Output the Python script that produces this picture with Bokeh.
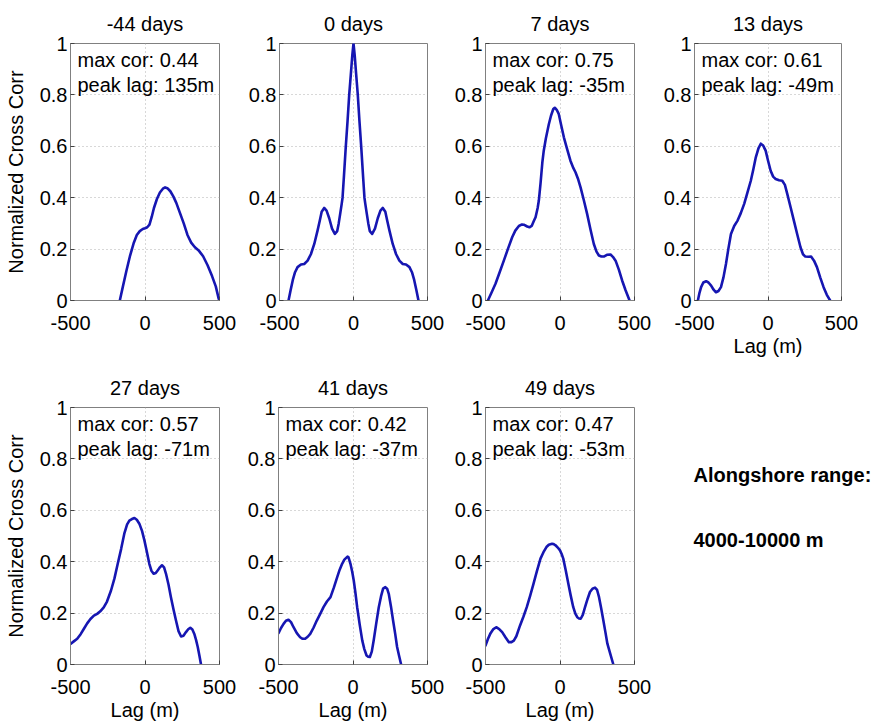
from bokeh.plotting import figure
from bokeh.layouts import column, row
from bokeh.models import Range1d, FixedTicker, Label, NumeralTickFormatter
from bokeh.embed import file_html
from bokeh.resources import INLINE

FONT = "Liberation Sans"
CURVE_COLOR = "#1616b2"
FRAME_COLOR = "#808080"

# Cross-correlation curves (lag in metres, normalized correlation)
titles = ["-44 days", "0 days", "7 days", "13 days", "27 days", "41 days", "49 days"]

lag_m44 = [-169, -150, -125, -100, -75, -55, -35, -15, 0, 15, 30, 45, 60, 80, 100, 120, 135, 150, 170,
           190, 210, 235, 260, 285, 310, 335, 360, 390, 420, 450, 475, 495]
cor_m44 = [0.0, 0.05, 0.115, 0.175, 0.225, 0.255, 0.27, 0.278, 0.281, 0.285, 0.295, 0.325, 0.36, 0.395,
           0.42, 0.435, 0.44, 0.437, 0.425, 0.405, 0.38, 0.34, 0.3, 0.255, 0.225, 0.207, 0.195, 0.172,
           0.137, 0.095, 0.055, 0.006]

lag_0 = [-439, -425, -410, -395, -378, -355, -333, -310, -288, -265, -243, -228, -215, -198, -182, -164,
         -145, -126, -110, -100, -90, -80, -74, -65, -52, -40, -29, -18, -8, 0,
         8, 18, 29, 40, 52, 65, 74, 80, 90, 100, 110, 126, 145, 164, 182, 198, 215, 228, 243, 265, 288,
         310, 333, 355, 378, 395, 410, 425, 439]
cor_0 = [0.0, 0.04, 0.08, 0.11, 0.13, 0.14, 0.142, 0.155, 0.18, 0.22, 0.272, 0.31, 0.345, 0.36, 0.35, 0.32,
         0.28, 0.259, 0.27, 0.30, 0.337, 0.375, 0.40, 0.48, 0.60, 0.70, 0.80, 0.88, 0.955, 1.0,
         0.955, 0.88, 0.80, 0.70, 0.60, 0.48, 0.40, 0.375, 0.337, 0.30, 0.27, 0.259, 0.28, 0.32, 0.35,
         0.36, 0.345, 0.31, 0.272, 0.22, 0.18, 0.155, 0.142, 0.14, 0.13, 0.11, 0.08, 0.04, 0.0]

lag_7 = [-484, -460, -433, -405, -377, -350, -321, -300, -276, -255, -243, -220, -205, -190, -175, -164,
         -150, -142, -130, -118, -109, -95, -75, -60, -45, -35, -22, -8, 5, 26, 45, 70, 90, 104, 120, 138,
         160, 182, 205, 227, 245, 261, 278, 294, 315, 339, 355, 373, 395, 417, 440, 467]
cor_7 = [0.0, 0.03, 0.065, 0.11, 0.155, 0.2, 0.246, 0.272, 0.29, 0.296, 0.295, 0.288, 0.285, 0.29, 0.31,
         0.324, 0.36, 0.389, 0.46, 0.54, 0.583, 0.63, 0.686, 0.72, 0.745, 0.75, 0.742, 0.725, 0.69, 0.635,
         0.595, 0.544, 0.515, 0.499, 0.475, 0.44, 0.39, 0.337, 0.275, 0.22, 0.19, 0.175, 0.171, 0.171,
         0.178, 0.179, 0.17, 0.155, 0.12, 0.078, 0.04, 0.0]

lag_13 = [-477, -466, -455, -440, -421, -405, -387, -370, -354, -337, -320, -303, -286, -270, -252, -230,
          -207, -185, -162, -140, -117, -100, -83, -65, -49, -33, -16, 0, 18, 35, 52, 75, 97, 115, 131,
          155, 176, 200, 221, 238, 254, 275, 293, 313, 333, 355, 378, 400, 423]
cor_13 = [0.0, 0.03, 0.052, 0.07, 0.075, 0.07, 0.058, 0.042, 0.032, 0.037, 0.052, 0.09, 0.142, 0.2, 0.259,
          0.29, 0.311, 0.34, 0.376, 0.42, 0.466, 0.51, 0.557, 0.592, 0.61, 0.603, 0.583, 0.545, 0.505,
          0.482, 0.473, 0.468, 0.466, 0.45, 0.415, 0.36, 0.311, 0.255, 0.207, 0.18, 0.171, 0.17, 0.171,
          0.155, 0.13, 0.09, 0.052, 0.022, 0.0]

lag_27 = [-500, -478, -455, -432, -410, -388, -366, -343, -321, -300, -277, -255, -228, -205, -183, -160,
          -139, -120, -105, -88, -71, -55, -38, -20, -4, 12, 29, 43, 58, 72, 85, 100, 114, 128, 141, 158,
          174, 191, 208, 225, 242, 258, 275, 290, 304, 318, 331, 343, 354, 365, 376]
cor_27 = [0.08, 0.09, 0.1, 0.118, 0.139, 0.16, 0.177, 0.19, 0.197, 0.207, 0.222, 0.245, 0.288, 0.335,
          0.392, 0.45, 0.509, 0.545, 0.56, 0.566, 0.57, 0.563, 0.548, 0.52, 0.483, 0.44, 0.392, 0.365,
          0.353, 0.356, 0.366, 0.378, 0.386, 0.378, 0.353, 0.31, 0.262, 0.215, 0.171, 0.13, 0.109, 0.112,
          0.126, 0.137, 0.143, 0.136, 0.119, 0.095, 0.068, 0.035, 0.0]

lag_41 = [-500, -483, -466, -450, -433, -416, -399, -377, -355, -338, -321, -304, -287, -265, -243, -220,
          -198, -175, -151, -128, -106, -90, -73, -58, -44, -37, -30, -17, -5, 5, 16, 28, 45, 62, 76, 91,
          102, 113, 126, 139, 156, 173, 188, 202, 217, 229, 240, 255, 269, 283, 296, 310, 323]
cor_41 = [0.122, 0.142, 0.158, 0.17, 0.174, 0.165, 0.145, 0.122, 0.106, 0.1, 0.1, 0.108, 0.119, 0.143,
          0.171, 0.197, 0.223, 0.245, 0.262, 0.3, 0.34, 0.368, 0.392, 0.408, 0.416, 0.42, 0.417, 0.392,
          0.36, 0.327, 0.28, 0.223, 0.155, 0.094, 0.06, 0.035, 0.03, 0.029, 0.05, 0.094, 0.16, 0.223,
          0.265, 0.295, 0.301, 0.295, 0.275, 0.225, 0.171, 0.12, 0.068, 0.032, 0.0]

lag_49 = [-500, -483, -466, -447, -428, -408, -388, -365, -343, -326, -310, -293, -268, -245, -223, -200,
          -178, -155, -131, -111, -91, -75, -59, -53, -45, -30, -15, 0, 11, 22, 39, 56, 72, 89, 103, 116,
          128, 139, 153, 168, 185, 201, 218, 235, 249, 262, 276, 291, 305, 318, 338, 358]
cor_49 = [0.074, 0.1, 0.122, 0.138, 0.145, 0.138, 0.126, 0.105, 0.087, 0.087, 0.093, 0.11, 0.152, 0.187,
          0.223, 0.268, 0.314, 0.363, 0.412, 0.437, 0.457, 0.466, 0.469, 0.47, 0.469, 0.464, 0.455, 0.444,
          0.43, 0.412, 0.365, 0.314, 0.268, 0.223, 0.198, 0.184, 0.179, 0.178, 0.193, 0.223, 0.255,
          0.282, 0.295, 0.299, 0.29, 0.262, 0.22, 0.171, 0.125, 0.081, 0.04, 0.0]

x_ticks = [-500, 0, 500]
y_ticks = [0, 0.2, 0.4, 0.6, 0.8, 1]

side_note = ["Alongshore range:", "4000-10000 m"]


def make_panel(title, lags, cors, width, height, borders, ylabel=False, xlabel=False, stats=True):
    left, right, top, bottom = borders
    p = figure(width=width, height=height, x_range=Range1d(-500, 500), y_range=Range1d(0, 1),
               output_backend="svg", toolbar_location=None, tools="",
               min_border_left=left, min_border_right=right,
               min_border_top=top, min_border_bottom=bottom,
               background_fill_color="white", border_fill_color="white")
    p.title.text = title
    p.title.align = "center"
    p.title.vertical_align = "top"
    p.title.text_font = FONT
    p.title.text_font_size = "20px"
    p.title.text_font_style = "normal"
    p.title.text_color = "black"
    p.title.standoff = 14

    p.outline_line_color = FRAME_COLOR
    p.outline_line_width = 1

    p.xaxis.ticker = FixedTicker(ticks=x_ticks)
    p.yaxis.ticker = FixedTicker(ticks=y_ticks)
    p.xaxis.formatter = NumeralTickFormatter(format="0")
    p.yaxis.formatter = NumeralTickFormatter(format="0.[0]")
    for ax in (p.xaxis, p.yaxis):
        ax.axis_line_color = FRAME_COLOR
        ax.major_tick_in = 4
        ax.major_tick_out = 0
        ax.major_tick_line_color = "#404040"
        ax.minor_tick_line_color = None
        ax.major_label_text_font = FONT
        ax.major_label_text_font_size = "20px"
        ax.major_label_text_color = "black"
        ax.axis_label_text_font = FONT
        ax.axis_label_text_font_size = "20px"
        ax.axis_label_text_font_style = "normal"
        ax.axis_label_text_color = "black"
    p.yaxis.major_label_standoff = 3
    p.xaxis.major_label_standoff = 15
    if ylabel:
        p.yaxis.axis_label = "Normalized Cross Corr"
        p.yaxis.axis_label_standoff = 10
    if xlabel:
        p.xaxis.axis_label = "Lag (m)"
        p.xaxis.axis_label_standoff = 2

    p.grid.grid_line_color = "#b0b0b0"
    p.grid.grid_line_dash = "1 3"
    p.grid.grid_line_width = 1

    p.line(lags, cors, line_color=CURVE_COLOR, line_width=2.6, line_join="round", line_cap="round")

    if stats:
        i = max(range(len(cors)), key=lambda k: cors[k])
        lines = [f"max cor: {cors[i]:.2f}", f"peak lag: {lags[i]:.0f}m"]
        for j, txt in enumerate(lines):
            p.add_layout(Label(x=-500, y=1, x_offset=7, y_offset=-16 - 25 * j, text=txt,
                               text_font=FONT, text_font_size="20px", text_color="black",
                               text_baseline="middle", text_align="left"))
    return p


TOP = (43, 60)
BOT = (47, 62)

f1 = make_panel(titles[0], lag_m44, cor_m44, 240, 360, (70, 21) + TOP, ylabel=True)
f2 = make_panel(titles[1], lag_0, cor_0, 210, 360, (39, 23) + TOP, stats=False)
f3 = make_panel(titles[2], lag_7, cor_7, 210, 360, (35, 26) + TOP)
f4 = make_panel(titles[3], lag_13, cor_13, 220, 360, (33, 39) + TOP, xlabel=True)

f5 = make_panel(titles[4], lag_27, cor_27, 240, 366, (70, 21) + BOT, ylabel=True, xlabel=True)
f6 = make_panel(titles[5], lag_41, cor_41, 210, 366, (38, 23) + BOT, xlabel=True)
f7 = make_panel(titles[6], lag_49, cor_49, 210, 366, (35, 26) + BOT, xlabel=True)

# side note panel: its frame lines up with the bottom-row plot frames (257 px tall)
note = figure(width=220, height=366, x_range=Range1d(0, 220), y_range=Range1d(0, 257),
              output_backend="svg", toolbar_location=None, tools="",
              x_axis_location=None, y_axis_location=None,
              min_border_left=0, min_border_right=0, min_border_top=47, min_border_bottom=62,
              outline_line_color=None)
note.grid.visible = False
for txt, y in zip(side_note, (190, 125)):
    note.add_layout(Label(x=33, y=y, text=txt, text_font=FONT, text_font_size="20px",
                          text_font_style="bold", text_color="black",
                          text_baseline="middle", text_align="left"))

layout = column(row(f1, f2, f3, f4), row(f5, f6, f7, note))

open("out.html", "w").write(file_html(layout, INLINE))
